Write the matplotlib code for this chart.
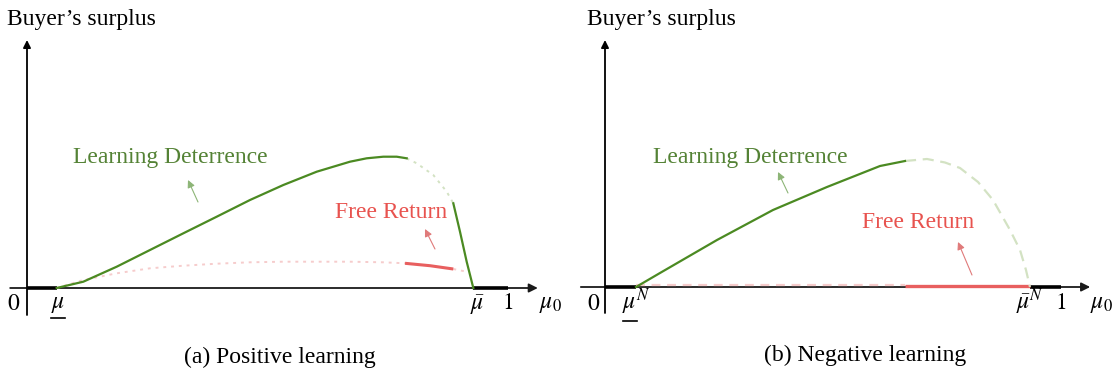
import matplotlib
matplotlib.use("Agg")
import matplotlib.pyplot as plt

plt.rcParams['mathtext.fontset'] = 'stix'
SERIF = ['Liberation Serif', 'DejaVu Serif']

# ---------------- data (mu0, buyer's surplus) ----------------
# (a) Positive learning
a_ld_x = [0.0617, 0.1171, 0.1865, 0.2557, 0.3250, 0.3944, 0.4636, 0.5329, 0.6023, 0.6715, 0.7062, 0.7408, 0.7686, 0.7894]
a_ld_y = [0.000, 0.063, 0.213, 0.380, 0.547, 0.713, 0.880, 1.030, 1.163, 1.263, 1.297, 1.313, 1.313, 1.297]
a_ldgap_x = [0.7894, 0.8102, 0.8447, 0.8726, 0.8863]
a_ldgap_y = [1.297, 1.247, 1.130, 0.963, 0.847]
a_ld2_x = [0.8863, 0.9002, 0.9141, 0.9279]
a_ld2_y = [0.847, 0.563, 0.263, 0.000]
a_frdot_x = [0.0617, 0.1171, 0.1865, 0.2557, 0.3250, 0.3944, 0.4636, 0.5329, 0.6023, 0.6715, 0.7408, 0.7859]
a_frdot_y = [0.000, 0.080, 0.147, 0.197, 0.223, 0.243, 0.257, 0.263, 0.263, 0.263, 0.257, 0.247]
a_fr_x = [0.7859, 0.8378, 0.8863]
a_fr_y = [0.247, 0.223, 0.190]
a_frtail_x = [0.8863, 0.9141]
a_frtail_y = [0.190, 0.163]
a_mu_low, a_mu_high = 0.0617, 0.9279

# (b) Negative learning
b_ld_x = [0.068, 0.1206, 0.2456, 0.3070, 0.3684, 0.4868, 0.6031, 0.6579]
b_ld_y = [0.00, 0.14, 0.47, 0.62, 0.77, 1.00, 1.21, 1.26]
b_ldgap_x = [0.6579, 0.7061, 0.7456, 0.7785, 0.8180, 0.8509, 0.8882, 0.9101, 0.9232, 0.932]
b_ldgap_y = [1.26, 1.28, 1.245, 1.19, 1.05, 0.87, 0.57, 0.37, 0.17, 0.00]
b_frdash_x = [0.068, 0.6579]
b_frdash_y = [0.025, 0.025]
b_fr_x = [0.6579, 0.932]
b_fr_y = [0.012, 0.012]
b_mu_low, b_mu_high = 0.068, 0.932

# text
ylabel = "Buyer\u2019s surplus"
ld_text = "Learning Deterrence"
fr_text = "Free Return"
captions = ["(a) Positive learning", "(b) Negative learning"]

# ---------------- styling ----------------
G_LINE = '#4b8a22'
G_TEXT = '#548235'
G_PALE = '#d3e2c3'
R_LINE = '#e85f5f'
R_TEXT = '#e8534f'
R_PALE = '#f6cccc'
G_ARROW = '#8db577'
R_ARROW = '#e07a7a'

fig = plt.figure(figsize=(11.19, 3.73), dpi=100)
W, H = 1119, 373

def make_ax(px0, px1, x0px, unitx, y0px):
    ax = fig.add_axes([px0 / W, 0, (px1 - px0) / W, 1])
    ax.set_xlim((px0 - x0px) / unitx, (px1 - x0px) / unitx)
    ax.set_ylim((y0px - H) / 100, y0px / 100)
    ax.axis('off')
    return ax

axA = make_ax(0, 560, 27, 481, 288)
axB = make_ax(560, 1119, 605, 456, 287)

def axes_frame(ax, xstart, xend, ybot, ytop):
    ax.annotate('', xy=(xend, 0), xytext=(xstart, 0),
                arrowprops=dict(arrowstyle='-|>', lw=1.3, color='#1a1a1a',
                                mutation_scale=13, shrinkA=0, shrinkB=0), zorder=2)
    ax.annotate('', xy=(0, ytop), xytext=(0, ybot),
                arrowprops=dict(arrowstyle='-|>', lw=1.3, color='black',
                                mutation_scale=11, shrinkA=0, shrinkB=0), zorder=2)

axes_frame(axA, -0.035, 1.062, -0.27, 2.48)
axes_frame(axB, -0.053, 1.064, -0.26, 2.47)

# panel A
axA.plot([0, a_mu_low], [0, 0], color='black', lw=2.6, solid_capstyle='butt', zorder=3)
axA.plot([a_mu_high, 1.0], [0, 0], color='black', lw=2.6, solid_capstyle='butt', zorder=3)
axA.plot(a_frdot_x, a_frdot_y, color=R_PALE, lw=1.4, ls=(0, (1.5, 2.5)), zorder=3)
axA.plot(a_frtail_x, a_frtail_y, color=R_PALE, lw=1.4, ls=(0, (1.5, 2.5)), zorder=3)
axA.plot(a_fr_x, a_fr_y, color=R_LINE, lw=2.2, solid_capstyle='butt', zorder=4)
axA.plot(a_ld_x, a_ld_y, color=G_LINE, lw=1.6, zorder=5, solid_joinstyle='round')
axA.plot(a_ldgap_x, a_ldgap_y, color=G_PALE, lw=1.4, ls=(0, (1.5, 2.5)), zorder=4)
axA.plot(a_ld2_x, a_ld2_y, color=G_LINE, lw=1.6, zorder=5, solid_joinstyle='round')

# panel B
axB.plot([0, b_mu_low], [0, 0], color='black', lw=2.6, solid_capstyle='butt', zorder=3)
axB.plot([b_mu_high, 1.0], [0, 0], color='black', lw=2.6, solid_capstyle='butt', zorder=3)
axB.plot(b_frdash_x, b_frdash_y, color=R_PALE, lw=1.6, ls=(0, (4, 3)), zorder=3)
axB.plot(b_fr_x, b_fr_y, color=R_LINE, lw=2.4, solid_capstyle='butt', zorder=4)
axB.plot(b_ld_x, b_ld_y, color=G_LINE, lw=1.6, zorder=5, solid_joinstyle='round')
axB.plot(b_ldgap_x, b_ldgap_y, color=G_PALE, lw=1.6, ls=(0, (5, 3)), zorder=4)

def small_arrow(ax, tail, tip, color):
    ax.annotate('', xy=tip, xytext=tail,
                arrowprops=dict(arrowstyle='-|>', lw=0.8, color=color,
                                mutation_scale=11, shrinkA=0, shrinkB=0))

small_arrow(axA, (0.3555, 0.86), (0.3347, 1.08), G_ARROW)
small_arrow(axA, (0.8482, 0.39), (0.8274, 0.59), R_ARROW)
small_arrow(axB, (0.4013, 0.94), (0.3794, 1.15), G_ARROW)
small_arrow(axB, (0.8048, 0.12), (0.7741, 0.45), R_ARROW)

FS = 17
axA.text(0.0956, 1.25, ld_text, color=G_TEXT, fontsize=FS, family=SERIF, va='baseline', ha='left')
axA.text(0.6403, 0.70, fr_text, color=R_TEXT, fontsize=FS, family=SERIF, va='baseline', ha='left')
axB.text(0.1053, 1.24, ld_text, color=G_TEXT, fontsize=FS, family=SERIF, va='baseline', ha='left')
axB.text(0.5636, 0.59, fr_text, color=R_TEXT, fontsize=FS, family=SERIF, va='baseline', ha='left')

axA.text(-0.0416, 2.63, ylabel, fontsize=FS, family=SERIF, va='baseline', ha='left')
axB.text(-0.0395, 2.62, ylabel, fontsize=FS, family=SERIF, va='baseline', ha='left')

axA.text(0.526, -0.69, captions[0], fontsize=FS, family=SERIF, va='center', ha='center')
axB.text(0.570, -0.68, captions[1], fontsize=FS, family=SERIF, va='center', ha='center')

TF = 17
def tick(ax, x, y, s, ha='center'):
    ax.text(x, y, s, fontsize=TF, va='center', ha=ha)

tick(axA, -0.028, -0.15, r'$0$')
tick(axA, 0.0644, -0.15, r'$\mu$')
axA.plot([0.050, 0.079], [-0.30, -0.30], color='black', lw=1.2, clip_on=False)
tick(axA, 0.9356, -0.17, r'$\bar{\mu}$')
tick(axA, 1.0, -0.14, r'$1$')
tick(axA, 1.089, -0.15, r'$\mu_0$')

tick(axB, -0.026, -0.16, r'$0$')
tick(axB, 0.037, -0.15, r'$\mu^N$', ha='left')
axB.plot([0.039, 0.070], [-0.34, -0.34], color='black', lw=1.2, clip_on=False)
tick(axB, 0.932, -0.15, r'$\bar{\mu}^N$')
tick(axB, 1.0, -0.15, r'$1$')
tick(axB, 1.090, -0.16, r'$\mu_0$')

fig.savefig('out.png', dpi=100)
